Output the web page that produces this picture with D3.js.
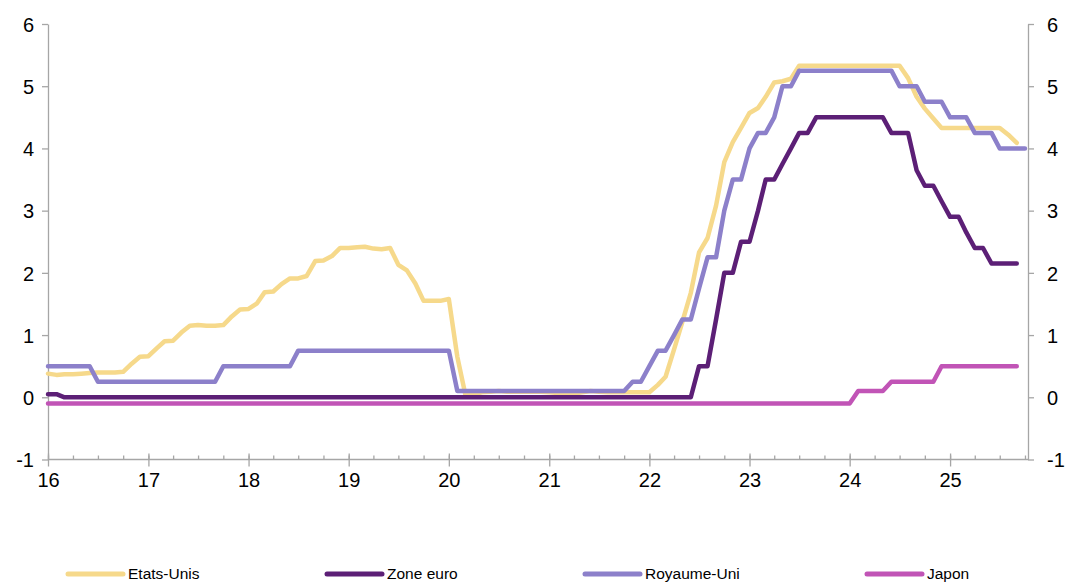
<!DOCTYPE html>
<html>
<head>
<meta charset="utf-8">
<script src="https://cdn.jsdelivr.net/npm/d3@7"></script>
<style>
  html, body { margin: 0; padding: 0; background: #ffffff; }
  svg { display: block; font-family: "Liberation Sans", Arial, sans-serif; }
</style>
</head>
<body>
<svg id="chart" width="1069" height="582"></svg>
<script>
// ---- Data (monthly, first point = Jan 2016) ----
const seriesNames = ["Etats-Unis", "Zone euro", "Royaume-Uni", "Japon"];
const seriesColors = ["#F6D98B", "#5C1F76", "#8C80CA", "#C154B6"];

const xTickLabels = ["16", "17", "18", "19", "20", "21", "22", "23", "24", "25"];
const yTickValues = [-1, 0, 1, 2, 3, 4, 5, 6];

const etatsUnis = [
  0.38, 0.36, 0.37, 0.37, 0.38, 0.39, 0.40, 0.40, 0.40, 0.41, 0.54,
  0.65, 0.66, 0.79, 0.90, 0.91, 1.04, 1.15, 1.16, 1.15, 1.15, 1.16, 1.30,
  1.41, 1.42, 1.51, 1.69, 1.70, 1.82, 1.91, 1.91, 1.95, 2.19, 2.20, 2.27,
  2.40, 2.40, 2.41, 2.42, 2.39, 2.38, 2.40, 2.13, 2.04, 1.83, 1.55, 1.55,
  1.55, 1.58, 0.65, 0.05, 0.05, 0.08, 0.09, 0.10, 0.09, 0.09, 0.09, 0.09,
  0.09, 0.08, 0.07, 0.07, 0.06, 0.08, 0.10, 0.09, 0.08, 0.08, 0.08, 0.08,
  0.08, 0.08, 0.20, 0.33, 0.77, 1.21, 1.68, 2.33, 2.56, 3.08, 3.78, 4.10,
  4.33, 4.57, 4.65, 4.83, 5.06, 5.08, 5.12, 5.33, 5.33, 5.33, 5.33, 5.33,
  5.33, 5.33, 5.33, 5.33, 5.33, 5.33, 5.33, 5.33, 5.13, 4.83, 4.64, 4.48,
  4.33, 4.33, 4.33, 4.33, 4.33, 4.33, 4.33, 4.33, 4.22, 4.09
];

const zoneEuro = [
  0.05, 0.05, 0, 0, 0, 0, 0, 0, 0, 0, 0, 0,
  0, 0, 0, 0, 0, 0, 0, 0, 0, 0, 0, 0,
  0, 0, 0, 0, 0, 0, 0, 0, 0, 0, 0, 0,
  0, 0, 0, 0, 0, 0, 0, 0, 0, 0, 0, 0,
  0, 0, 0, 0, 0, 0, 0, 0, 0, 0, 0, 0,
  0, 0, 0, 0, 0, 0, 0, 0, 0, 0, 0, 0,
  0, 0, 0, 0, 0, 0, 0.5, 0.5, 1.25, 2.0, 2.0, 2.5,
  2.5, 3.0, 3.5, 3.5, 3.75, 4.0, 4.25, 4.25, 4.5, 4.5, 4.5, 4.5,
  4.5, 4.5, 4.5, 4.5, 4.5, 4.25, 4.25, 4.25, 3.65, 3.4, 3.4, 3.15,
  2.9, 2.9, 2.65, 2.4, 2.4, 2.15, 2.15, 2.15, 2.15
];

const royaumeUni = [
  0.5, 0.5, 0.5, 0.5, 0.5, 0.5, 0.25, 0.25, 0.25, 0.25, 0.25, 0.25,
  0.25, 0.25, 0.25, 0.25, 0.25, 0.25, 0.25, 0.25, 0.25, 0.5, 0.5, 0.5,
  0.5, 0.5, 0.5, 0.5, 0.5, 0.5, 0.75, 0.75, 0.75, 0.75, 0.75, 0.75,
  0.75, 0.75, 0.75, 0.75, 0.75, 0.75, 0.75, 0.75, 0.75, 0.75, 0.75, 0.75,
  0.75, 0.1, 0.1, 0.1, 0.1, 0.1, 0.1, 0.1, 0.1, 0.1, 0.1, 0.1,
  0.1, 0.1, 0.1, 0.1, 0.1, 0.1, 0.1, 0.1, 0.1, 0.1, 0.25, 0.25,
  0.5, 0.75, 0.75, 1.0, 1.25, 1.25, 1.75, 2.25, 2.25, 3.0, 3.5, 3.5,
  4.0, 4.25, 4.25, 4.5, 5.0, 5.0, 5.25, 5.25, 5.25, 5.25, 5.25, 5.25,
  5.25, 5.25, 5.25, 5.25, 5.25, 5.25, 5.0, 5.0, 5.0, 4.75, 4.75, 4.75,
  4.5, 4.5, 4.5, 4.25, 4.25, 4.25, 4.0, 4.0, 4.0, 4.0
];

const japon = [
  -0.1, -0.1, -0.1, -0.1, -0.1, -0.1, -0.1, -0.1, -0.1, -0.1, -0.1, -0.1,
  -0.1, -0.1, -0.1, -0.1, -0.1, -0.1, -0.1, -0.1, -0.1, -0.1, -0.1, -0.1,
  -0.1, -0.1, -0.1, -0.1, -0.1, -0.1, -0.1, -0.1, -0.1, -0.1, -0.1, -0.1,
  -0.1, -0.1, -0.1, -0.1, -0.1, -0.1, -0.1, -0.1, -0.1, -0.1, -0.1, -0.1,
  -0.1, -0.1, -0.1, -0.1, -0.1, -0.1, -0.1, -0.1, -0.1, -0.1, -0.1, -0.1,
  -0.1, -0.1, -0.1, -0.1, -0.1, -0.1, -0.1, -0.1, -0.1, -0.1, -0.1, -0.1,
  -0.1, -0.1, -0.1, -0.1, -0.1, -0.1, -0.1, -0.1, -0.1, -0.1, -0.1, -0.1,
  -0.1, -0.1, -0.1, -0.1, -0.1, -0.1, -0.1, -0.1, -0.1, -0.1, -0.1, -0.1,
  -0.1, 0.1, 0.1, 0.1, 0.1, 0.25, 0.25, 0.25, 0.25, 0.25, 0.25, 0.5,
  0.5, 0.5, 0.5, 0.5, 0.5, 0.5, 0.5, 0.5, 0.5
];

const allSeries = [etatsUnis, zoneEuro, royaumeUni, japon];

// ---- Layout ----
const svg = d3.select("#chart");
const plotLeft = 48, plotRight = 1028, plotTop = 24, plotBottom = 459.5;
const axisColor = "#A6A6A6";

const months = d3.timeMonth.range(new Date(2016, 0, 1), new Date(2025, 11, 1));

const x = d3.scaleTime()
  .domain([new Date(2016, 0, 1), new Date(2025, 9, 12)])
  .range([plotLeft, plotRight]);
const y = d3.scaleLinear().domain([-1, 6]).range([plotBottom, plotTop]);

const yearTicks = xTickLabels.map(s => new Date(2000 + (+s), 0, 1));
const quarterTicks = d3.timeMonth.every(3).range(new Date(2016, 0, 1), new Date(2025, 9, 12));

// Title (mostly above the top edge in the reference)
svg.append("text")
  .attr("x", 540).attr("y", 0.2)
  .attr("text-anchor", "middle")
  .attr("font-size", 32)
  .attr("fill", "#A9B1DA")
  .text("Taux directeurs");

// ---- Axes ----
function styleAxis(g) {
  g.selectAll("path.domain").attr("stroke", axisColor).attr("stroke-width", 1.3);
  g.selectAll(".tick line").attr("stroke", axisColor).attr("stroke-width", 1.3);
  g.selectAll(".tick text").attr("fill", "#000").attr("font-size", 20)
    .attr("font-family", "'Liberation Sans', Arial, sans-serif");
}
const yFmt = d => String(d);

// left axis
const gL = svg.append("g").attr("transform", `translate(${plotLeft},0)`)
  .call(d3.axisLeft(y).tickValues(yTickValues).tickSize(6).tickSizeOuter(0).tickPadding(8).tickFormat(yFmt));
styleAxis(gL);
gL.selectAll(".tick text").attr("dy", "0.36em");

// right axis
const gR = svg.append("g").attr("transform", `translate(${plotRight},0)`)
  .call(d3.axisRight(y).tickValues(yTickValues).tickSize(6).tickSizeOuter(0).tickPadding(13).tickFormat(yFmt));
styleAxis(gR);
gR.selectAll(".tick text").attr("dy", "0.36em");

// bottom axis: minor quarterly ticks (inside)
const gMinor = svg.append("g").attr("transform", `translate(0,${plotBottom})`)
  .call(d3.axisTop(x).tickValues(quarterTicks).tickSize(4).tickSizeOuter(0).tickFormat(""));
styleAxis(gMinor);
gMinor.select("path.domain").remove();

// bottom axis: major ticks crossing + labels
const gUp = svg.append("g").attr("transform", `translate(0,${plotBottom})`)
  .call(d3.axisTop(x).tickValues(yearTicks).tickSize(6).tickSizeOuter(0).tickFormat(""));
styleAxis(gUp);
gUp.select("path.domain").remove();

const gB = svg.append("g").attr("transform", `translate(0,${plotBottom})`)
  .call(d3.axisBottom(x).tickValues(yearTicks).tickSize(7).tickSizeOuter(0)
    .tickFormat((d, i) => xTickLabels[i]));
styleAxis(gB);
gB.select("path.domain").attr("d", `M${plotLeft},0H${plotRight}`);
gB.selectAll(".tick text").attr("y", 27.5).attr("dy", 0);

// ---- Lines ----
const line = d3.line()
  .x(d => x(d[0]))
  .y(d => y(d[1]));

allSeries.forEach((vals, k) => {
  svg.append("path")
    .datum(vals.map((v, i) => [months[i], v]))
    .attr("fill", "none")
    .attr("stroke", seriesColors[k])
    .attr("stroke-width", 4.5)
    .attr("stroke-linejoin", "round")
    .attr("stroke-linecap", "round")
    .attr("d", line);
});

// ---- Legend ----
const legendX = [68, 327, 585, 867];
const legend = svg.append("g");
seriesNames.forEach((name, k) => {
  legend.append("line")
    .attr("x1", legendX[k]).attr("x2", legendX[k] + 55)
    .attr("y1", 574).attr("y2", 574)
    .attr("stroke", seriesColors[k]).attr("stroke-width", 5)
    .attr("stroke-linecap", "round");
  legend.append("text")
    .attr("x", legendX[k] + 60).attr("y", 578.5)
    .attr("font-size", 15.5).attr("fill", "#000")
    .text(name);
});
</script>
</body>
</html>
